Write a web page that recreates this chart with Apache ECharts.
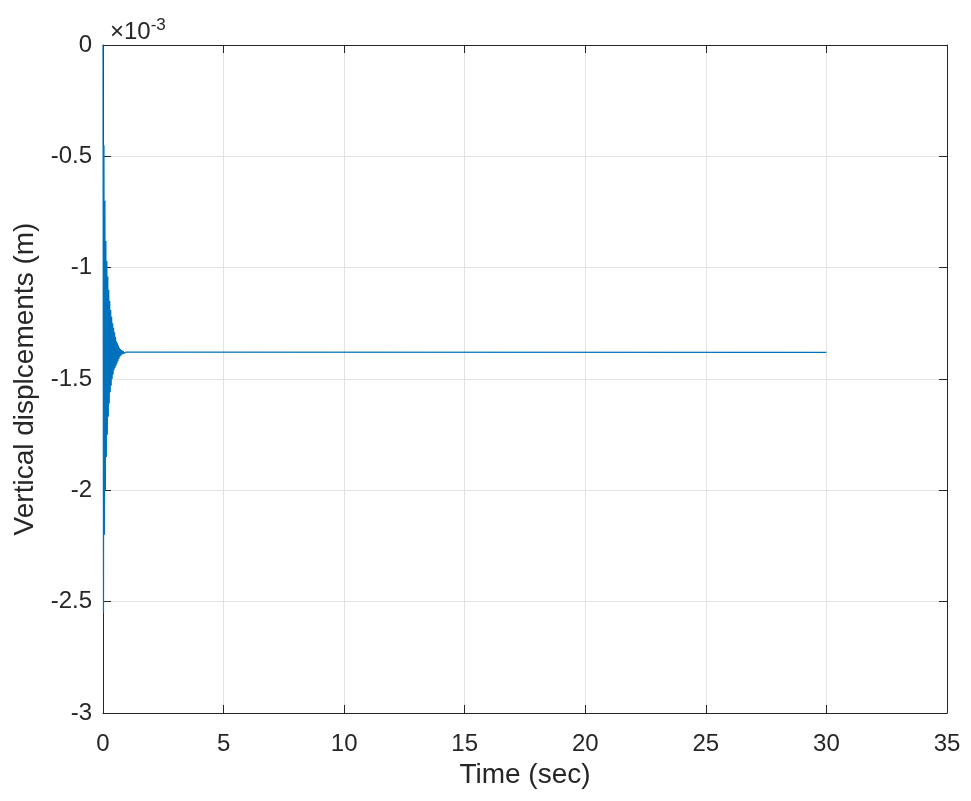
<!DOCTYPE html>
<html>
<head>
<meta charset="utf-8">
<title>Vertical displacements</title>
<script src="https://cdn.jsdelivr.net/npm/echarts@6/dist/echarts.min.js"></script>
<style>
  html, body { margin: 0; padding: 0; background: #fff; }
  #chart { width: 971px; height: 801px; }
</style>
</head>
<body>
<div id="chart"></div>
<script>
// time (s) and vertical displacement (x 1e-3 m)
// transient part: alternating peaks of the decaying oscillation
const transientTime = [
  0, 0.02, 0.04, 0.06, 0.08, 0.10, 0.12, 0.14, 0.16, 0.18,
  0.20, 0.22, 0.24, 0.26, 0.28, 0.30, 0.32, 0.34, 0.36, 0.38,
  0.40, 0.42, 0.44, 0.46, 0.48, 0.50, 0.52, 0.54, 0.56, 0.58,
  0.60, 0.62, 0.64, 0.66, 0.68, 0.70, 0.72, 0.74, 0.76, 0.78,
  0.80, 0.82, 0.84, 0.86, 0.88, 0.90, 0.92, 0.94, 0.96, 0.98, 1.00
];
const transientDisp = [
  0, -2.55, -0.45, -2.20, -0.70, -2.00, -0.88, -1.85, -0.97, -1.75,
  -1.04, -1.67, -1.10, -1.61, -1.15, -1.56, -1.19, -1.53, -1.22, -1.50,
  -1.25, -1.48, -1.27, -1.46, -1.29, -1.45, -1.31, -1.44, -1.33, -1.43,
  -1.34, -1.42, -1.35, -1.41, -1.36, -1.40, -1.365, -1.395, -1.37, -1.39,
  -1.372, -1.388, -1.375, -1.385, -1.377, -1.383, -1.378, -1.382, -1.379, -1.381, -1.38
];
// settled part
const steadyTime = [1.0, 30];
const steadyDisp = [-1.38, -1.38];

const xTicks = { min: 0, max: 35, interval: 5 };
const yTicks = { min: -3, max: 0, interval: 0.5 };

const points = transientTime.map((t, i) => [t, transientDisp[i]])
  .concat(steadyTime.map((t, i) => [t, steadyDisp[i]]));

const chart = echarts.init(document.getElementById('chart'));

const font = '"Liberation Sans", Arial, Helvetica, sans-serif';
const ink = '#262626';
const gridColor = '#e3e3e3';

const tickStyle = { show: true, inside: true, length: 8, lineStyle: { color: ink, width: 1 } };

chart.setOption({
  animation: false,
  backgroundColor: '#fff',
  title: {
    text: '×10{sup|-3}',
    left: 105,
    top: 12,
    textStyle: {
      fontFamily: font, fontSize: 24, fontWeight: 'normal', color: ink,
      rich: { sup: { fontFamily: font, fontSize: 17, color: ink, verticalAlign: 'top', padding: [0, 0, 13, 0] } }
    }
  },
  grid: { left: 103, right: 24, top: 45, bottom: 88, show: false },
  xAxis: [{
    type: 'value', position: 'bottom',
    min: xTicks.min, max: xTicks.max, interval: xTicks.interval,
    name: 'Time (sec)', nameLocation: 'middle', nameGap: 48,
    nameTextStyle: { fontFamily: font, fontSize: 28, color: ink },
    axisLine: { show: true, onZero: false, lineStyle: { color: ink, width: 1 } },
    axisTick: tickStyle,
    axisLabel: { fontFamily: font, fontSize: 24, color: ink, margin: 19 },
    splitLine: { show: true, lineStyle: { color: gridColor, width: 1 } }
  }, {
    type: 'value', position: 'top',
    min: xTicks.min, max: xTicks.max, interval: xTicks.interval,
    axisLine: { show: true, onZero: false, lineStyle: { color: ink, width: 1 } },
    axisTick: tickStyle,
    axisLabel: { show: false },
    splitLine: { show: false }
  }],
  yAxis: [{
    type: 'value', position: 'left',
    min: yTicks.min, max: yTicks.max, interval: yTicks.interval,
    name: 'Vertical displcements (m)', nameLocation: 'middle', nameGap: 64,
    nameTextStyle: { fontFamily: font, fontSize: 28, color: ink },
    axisLine: { show: true, onZero: false, lineStyle: { color: ink, width: 1 } },
    axisTick: tickStyle,
    axisLabel: { fontFamily: font, fontSize: 24, color: ink, margin: 11 },
    splitLine: { show: true, lineStyle: { color: gridColor, width: 1 } }
  }, {
    type: 'value', position: 'right',
    min: yTicks.min, max: yTicks.max, interval: yTicks.interval,
    axisLine: { show: true, onZero: false, lineStyle: { color: ink, width: 1 } },
    axisTick: tickStyle,
    axisLabel: { show: false },
    splitLine: { show: false }
  }],
  series: [{
    type: 'line',
    data: points,
    showSymbol: false,
    sampling: null,
    lineStyle: { color: '#0072BD', width: 1.2 },
    itemStyle: { color: '#0072BD' }
  }]
});
</script>
</body>
</html>
